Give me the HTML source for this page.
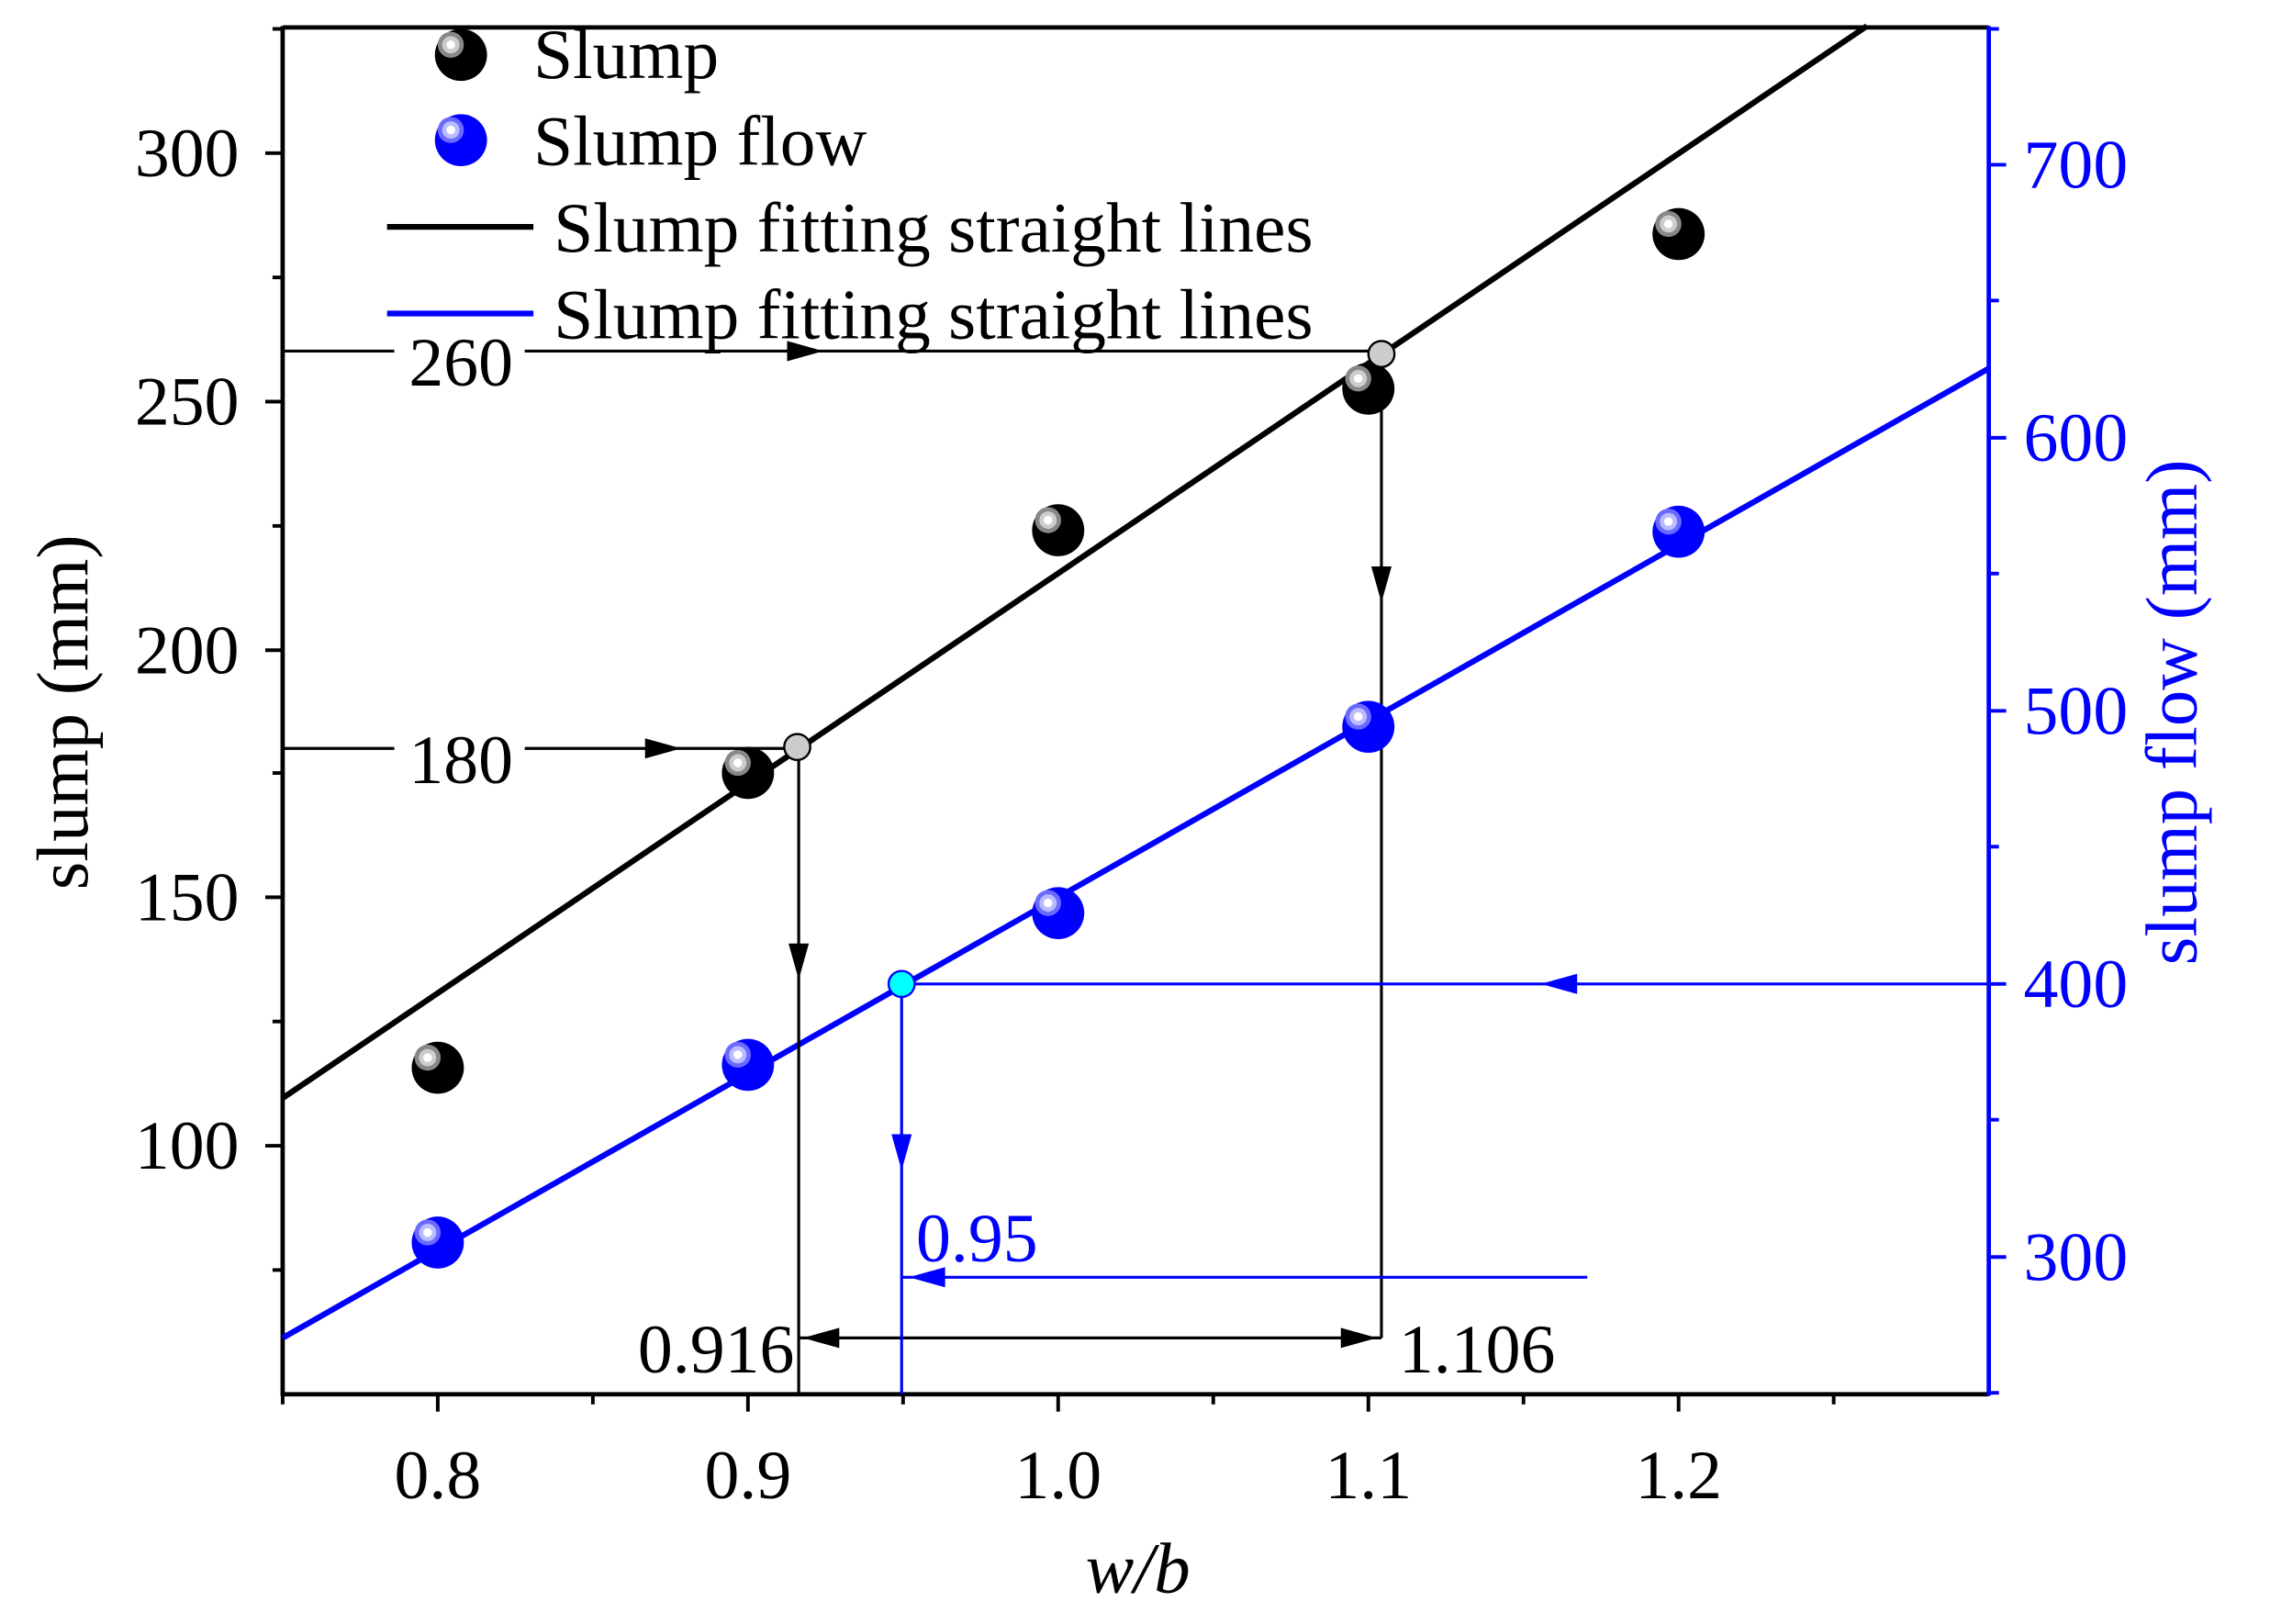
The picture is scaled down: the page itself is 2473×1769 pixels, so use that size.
<!DOCTYPE html>
<html><head><style>html,body{margin:0;padding:0;background:#fff}svg{display:block}</style></head><body>
<svg width="2473" height="1769" viewBox="0 0 1566 1124" preserveAspectRatio="none" xmlns="http://www.w3.org/2000/svg" font-family="Liberation Serif, serif">
<defs>
<g id="bk"><circle r="18" fill="#000"/><circle cx="-7" cy="-7" r="9" fill="#888"/><circle cx="-7" cy="-7" r="6" fill="#ccc"/><circle cx="-7" cy="-7" r="3" fill="#fff"/></g>
<g id="bl"><circle r="18" fill="#00f"/><circle cx="-7" cy="-7" r="9" fill="#6a6aff"/><circle cx="-7" cy="-7" r="6" fill="#bbf"/><circle cx="-7" cy="-7" r="3" fill="#fff"/></g>
</defs>
<rect width="1566" height="1124" fill="#fff"/>
<line x1="195" y1="19" x2="1372" y2="19" stroke="#000" stroke-width="3"/>
<line x1="195" y1="18" x2="195" y2="966" stroke="#000" stroke-width="3"/>
<line x1="194" y1="965" x2="1372" y2="965" stroke="#000" stroke-width="3"/>
<line x1="1372" y1="18" x2="1372" y2="966" stroke="#00f" stroke-width="3"/>
<g stroke="#000" stroke-width="2.5">
<line x1="302" y1="965" x2="302" y2="977"/><line x1="516" y1="965" x2="516" y2="977"/><line x1="730" y1="965" x2="730" y2="977"/><line x1="944" y1="965" x2="944" y2="977"/><line x1="1158" y1="965" x2="1158" y2="977"/>
<line x1="195" y1="965" x2="195" y2="972"/><line x1="409" y1="965" x2="409" y2="972"/><line x1="623" y1="965" x2="623" y2="972"/><line x1="837" y1="965" x2="837" y2="972"/><line x1="1051" y1="965" x2="1051" y2="972"/><line x1="1265" y1="965" x2="1265" y2="972"/>
<line x1="183" y1="106" x2="195" y2="106"/><line x1="183" y1="278" x2="195" y2="278"/><line x1="183" y1="450" x2="195" y2="450"/><line x1="183" y1="621" x2="195" y2="621"/><line x1="183" y1="793" x2="195" y2="793"/>
<line x1="188" y1="192" x2="195" y2="192"/><line x1="188" y1="364" x2="195" y2="364"/><line x1="188" y1="535" x2="195" y2="535"/><line x1="188" y1="707" x2="195" y2="707"/><line x1="188" y1="879" x2="195" y2="879"/><line x1="188" y1="20" x2="195" y2="20"/>
</g>
<g stroke="#00f" stroke-width="2.5">
<line x1="1372" y1="114" x2="1384" y2="114"/><line x1="1372" y1="303" x2="1384" y2="303"/><line x1="1372" y1="492" x2="1384" y2="492"/><line x1="1372" y1="681" x2="1384" y2="681"/><line x1="1372" y1="870" x2="1384" y2="870"/>
<line x1="1372" y1="20" x2="1379" y2="20"/><line x1="1372" y1="208" x2="1379" y2="208"/><line x1="1372" y1="397" x2="1379" y2="397"/><line x1="1372" y1="586" x2="1379" y2="586"/><line x1="1372" y1="775" x2="1379" y2="775"/><line x1="1372" y1="964" x2="1379" y2="964"/>
</g>
<g font-size="48" text-anchor="middle" fill="#000">
<text x="302" y="1037">0.8</text><text x="516" y="1037">0.9</text><text x="730" y="1037">1.0</text><text x="944" y="1037">1.1</text><text x="1158" y="1037">1.2</text>
</g>
<g font-size="48" text-anchor="end" fill="#000">
<text x="165" y="122">300</text><text x="165" y="294">250</text><text x="165" y="466">200</text><text x="165" y="637">150</text><text x="165" y="809">100</text>
</g>
<g font-size="48" fill="#00f">
<text x="1396" y="130">700</text><text x="1396" y="319">600</text><text x="1396" y="508">500</text><text x="1396" y="697">400</text><text x="1396" y="886">300</text>
</g>
<text x="785" y="1102" font-size="50" font-style="italic" text-anchor="middle">w/b</text>
<text transform="translate(60,493) rotate(-90)" font-size="50" text-anchor="middle">slump (mm)</text>
<text transform="translate(1515,493) rotate(-90)" font-size="50" text-anchor="middle" fill="#00f">slump flow (mm)</text>
<line x1="195" y1="760" x2="1288" y2="18" stroke="#000" stroke-width="4"/>
<line x1="195" y1="926" x2="1372" y2="255" stroke="#00f" stroke-width="4"/>
<g stroke="#000" stroke-width="2">
<line x1="195" y1="243" x2="953" y2="243"/>
<line x1="953" y1="245" x2="953" y2="926"/>
<line x1="195" y1="518" x2="551" y2="518"/>
<line x1="551" y1="518" x2="551" y2="965"/>
<line x1="551" y1="926" x2="953" y2="926"/>
</g>
<rect x="272" y="222" width="90" height="44" fill="#fff"/>
<rect x="272" y="497" width="90" height="44" fill="#fff"/>
<text x="318" y="267" font-size="48" text-anchor="middle">260</text>
<text x="318" y="542" font-size="48" text-anchor="middle">180</text>
<g fill="#000">
<polygon points="568,243 543,236 543,250"/>
<polygon points="470,518 445,511 445,525"/>
<polygon points="953,417 946,392 960,392"/>
<polygon points="551,678 544,653 558,653"/>
<polygon points="554,926 579,919 579,933"/>
<polygon points="950,926 925,919 925,933"/>
</g>
<text x="548" y="950" font-size="48" text-anchor="end">0.916</text>
<text x="965" y="950" font-size="48">1.106</text>
<g stroke="#00f" stroke-width="2">
<line x1="622" y1="681" x2="1372" y2="681"/>
<line x1="622" y1="681" x2="622" y2="965"/>
<line x1="622" y1="884" x2="1095" y2="884"/>
</g>
<g fill="#00f">
<polygon points="1063,681 1088,674 1088,688"/>
<polygon points="622,810 615,785 629,785"/>
<polygon points="627,884 652,877 652,891"/>
</g>
<text x="632" y="873" font-size="48" fill="#00f">0.95</text>
<use href="#bk" x="302" y="739"/><use href="#bk" x="516" y="535"/><use href="#bk" x="730" y="367"/><use href="#bk" x="944" y="269"/><use href="#bk" x="1158" y="162"/>
<use href="#bl" x="302" y="860"/><use href="#bl" x="516" y="737"/><use href="#bl" x="730" y="632"/><use href="#bl" x="944" y="503"/><use href="#bl" x="1158" y="368"/>
<circle cx="953" cy="245" r="9" fill="#ccc" stroke="#000" stroke-width="1.5"/>
<circle cx="550" cy="517" r="9" fill="#ccc" stroke="#000" stroke-width="1.5"/>
<circle cx="622" cy="681" r="9" fill="#0ff" stroke="#00f" stroke-width="1.5"/>
<use href="#bk" x="318" y="38"/>
<use href="#bl" x="318" y="97"/>
<text x="368" y="54" font-size="49">Slump</text>
<text x="368" y="114" font-size="49">Slump flow</text>
<line x1="267" y1="157" x2="368" y2="157" stroke="#000" stroke-width="4"/>
<line x1="267" y1="217" x2="368" y2="217" stroke="#00f" stroke-width="4"/>
<text x="382" y="174" font-size="49">Slump fitting straight lines</text>
<text x="382" y="234" font-size="49">Slump fitting straight lines</text>
</svg>
</body></html>
